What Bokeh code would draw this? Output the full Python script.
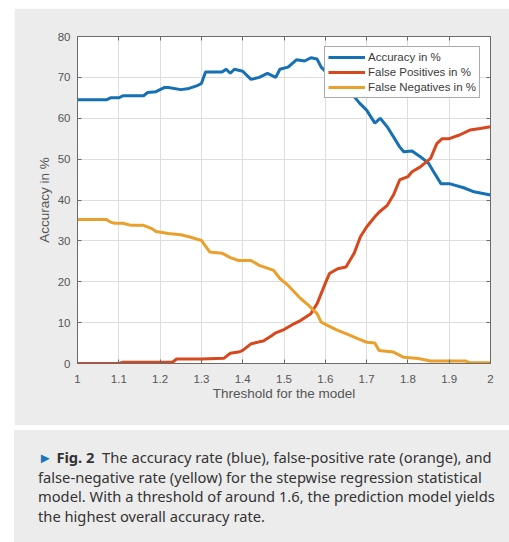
from bokeh.plotting import figure
from bokeh.models import (LinearAxis, FixedTicker, NumeralTickFormatter, Div, Range1d,
                          CustomLabelingPolicy)
from bokeh.layouts import column
from bokeh.embed import file_html
from bokeh.resources import INLINE

# ---------------- data ----------------
acc_thr = [1.00, 1.07, 1.08, 1.10, 1.11, 1.16, 1.17, 1.19, 1.21, 1.22, 1.25, 1.27, 1.29, 1.30,
           1.31, 1.35, 1.36, 1.37, 1.38, 1.40, 1.42, 1.44, 1.46, 1.48, 1.49, 1.51, 1.53, 1.55,
           1.565, 1.58, 1.59, 1.61, 1.63, 1.65, 1.66, 1.683, 1.70, 1.72, 1.733, 1.75, 1.78, 1.79,
           1.81, 1.83, 1.85, 1.86, 1.88, 1.90, 1.935, 1.96, 2.00]
acc_val = [64.5, 64.5, 65.0, 65.0, 65.5, 65.5, 66.3, 66.5, 67.5, 67.5, 67.0, 67.3, 68.0, 68.5,
           71.3, 71.3, 72.0, 71.0, 72.0, 71.5, 69.5, 70.0, 71.0, 70.0, 72.0, 72.5, 74.3, 74.0,
           74.8, 74.5, 72.5, 70.5, 69.0, 67.5, 66.5, 63.7, 62.0, 58.8, 60.0, 57.9, 53.0, 51.8,
           52.0, 50.6, 49.0, 47.3, 44.0, 44.0, 43.0, 42.0, 41.2]

fp_thr = [1.00, 1.10, 1.11, 1.23, 1.24, 1.30, 1.355, 1.37, 1.39, 1.40, 1.42, 1.44, 1.45, 1.47,
          1.48, 1.50, 1.52, 1.54, 1.565, 1.58, 1.60, 1.61, 1.63, 1.65, 1.67, 1.685, 1.70, 1.72,
          1.73, 1.75, 1.765, 1.78, 1.80, 1.81, 1.83, 1.855, 1.87, 1.883, 1.90, 1.925, 1.95,
          1.975, 2.00]
fp_val = [0.0, 0.0, 0.3, 0.3, 1.1, 1.1, 1.3, 2.5, 2.8, 3.2, 4.8, 5.3, 5.5, 6.8,
          7.5, 8.3, 9.5, 10.5, 12.2, 14.6, 19.6, 22.0, 23.2, 23.6, 27.0, 31.0, 33.4, 35.9,
          37.0, 38.7, 41.2, 44.9, 45.7, 46.9, 48.1, 50.2, 53.8, 55.0, 55.0, 55.9, 57.1,
          57.5, 57.9]

fn_thr = [1.00, 1.07, 1.08, 1.09, 1.11, 1.13, 1.16, 1.18, 1.19, 1.22, 1.25, 1.27, 1.30, 1.32,
          1.35, 1.37, 1.39, 1.42, 1.44, 1.475, 1.49, 1.51, 1.525, 1.54, 1.56, 1.58, 1.59, 1.61,
          1.63, 1.65, 1.68, 1.70, 1.72, 1.73, 1.765, 1.79, 1.825, 1.855, 1.94, 1.95, 2.00]
fn_val = [35.2, 35.2, 34.6, 34.3, 34.3, 33.8, 33.8, 33.0, 32.3, 31.8, 31.5, 31.0, 30.1, 27.3,
          27.0, 25.9, 25.2, 25.2, 24.0, 22.8, 20.8, 19.1, 17.5, 15.9, 14.2, 12.2, 10.1, 9.1,
          8.1, 7.3, 6.0, 5.2, 5.0, 3.2, 2.8, 1.5, 1.2, 0.6, 0.6, 0.2, 0.2]

x_ticks = [1.0, 1.1, 1.2, 1.3, 1.4, 1.5, 1.6, 1.7, 1.8, 1.9, 2.0]
y_ticks = [0, 10, 20, 30, 40, 50, 60, 70, 80]

series_names = ["Accuracy in %", "False Positives in %", "False Negatives in %"]
series_colors = ["#1670b4", "#d8481e", "#eaa02c"]

caption_html = ('<span style="color:#1b76bc">&#9658;</span>&nbsp;<b>Fig.&nbsp;2</b>&nbsp; '
                'The accuracy rate (blue), false-positive rate (orange), and<br>'
                'false-negative rate (yellow) for the stepwise regression statistical<br>'
                'model. With a threshold of around 1.6, the prediction model yields<br>'
                'the highest overall accuracy rate.')

# ---------------- figure ----------------
PANEL = "#ececec"
FONT = "Liberation Sans"
TICKC = "#555555"
AXC = "#6a6a6a"

p = figure(width=495, height=417, output_backend="svg", toolbar_location=None,
           x_range=Range1d(1, 2), y_range=Range1d(0, 80),
           min_border_left=63, min_border_right=19, min_border_top=28, min_border_bottom=62,
           background_fill_color="white", border_fill_color=PANEL,
           outline_line_color=AXC, outline_line_width=1, margin=(8, 0, 0, 14))

p.line(acc_thr, acc_val, line_width=3, color=series_colors[0], legend_label=series_names[0])
p.line(fp_thr, fp_val, line_width=3, color=series_colors[1], legend_label=series_names[1])
p.line(fn_thr, fn_val, line_width=3, color=series_colors[2], legend_label=series_names[2])

xt = FixedTicker(ticks=x_ticks)
yt = FixedTicker(ticks=y_ticks)

for ax in p.xaxis:
    ax.ticker = xt
    ax.formatter = NumeralTickFormatter(format="0.[0]")
    ax.axis_label = "Threshold for the model"
    ax.major_label_standoff = 11
    ax.axis_label_standoff = 0
for ax in p.yaxis:
    ax.ticker = yt
    ax.axis_label = "Accuracy in %"
    ax.major_label_standoff = 7
    ax.axis_label_standoff = 3

for ax in list(p.xaxis) + list(p.yaxis):
    ax.major_tick_in = 4
    ax.major_tick_out = 0
    ax.minor_tick_line_color = None
    ax.major_tick_line_color = AXC
    ax.axis_line_color = AXC
    ax.major_label_text_font = FONT
    ax.major_label_text_font_size = "11.5px"
    ax.major_label_text_color = TICKC
    ax.axis_label_text_font = FONT
    ax.axis_label_text_font_size = "13.5px"
    ax.axis_label_text_font_style = "normal"
    ax.axis_label_text_color = TICKC

no_labels = CustomLabelingPolicy(code="return new Set()")
top_ax = LinearAxis(ticker=FixedTicker(ticks=x_ticks), major_label_text_font_size="1px",
                    major_label_policy=no_labels,
                    major_tick_in=4, major_tick_out=0, minor_tick_line_color=None,
                    major_label_standoff=0, axis_line_color=AXC, major_tick_line_color=AXC)
right_ax = LinearAxis(ticker=FixedTicker(ticks=y_ticks), major_label_text_font_size="1px",
                      major_label_policy=CustomLabelingPolicy(code="return new Set()"),
                      major_tick_in=4, major_tick_out=0, minor_tick_line_color=None,
                      major_label_standoff=0, axis_line_color=AXC, major_tick_line_color=AXC)
p.add_layout(top_ax, "above")
p.add_layout(right_ax, "right")

p.xgrid.ticker = xt
p.ygrid.ticker = yt
p.xgrid.grid_line_color = "#dedede"
p.ygrid.grid_line_color = "#dedede"

lg = p.legend[0]
lg.location = "top_right"
lg.margin = 10
lg.padding = 3
lg.spacing = 1
lg.glyph_width = 37
lg.glyph_height = 14
lg.label_height = 14
lg.label_standoff = 3
lg.label_text_font = FONT
lg.label_text_font_size = "11.5px"
lg.label_text_color = "#3a3a3a"
lg.border_line_color = "#555555"
lg.border_line_width = 1
lg.background_fill_color = "white"
lg.background_fill_alpha = 1.0

cap = Div(text=('<div style="background:%s;width:495px;height:112px;box-sizing:border-box;'
                'padding:18px 0 0 24px;font-family:\'Noto Sans\';font-size:14.7px;line-height:19.6px;'
                'color:#333333;white-space:nowrap;">%s</div>') % (PANEL, caption_html),
          width=495, height=112, margin=(5, 0, 0, 14))

layout = column(p, cap, spacing=0)

open("out.html", "w").write(file_html(layout, INLINE))
